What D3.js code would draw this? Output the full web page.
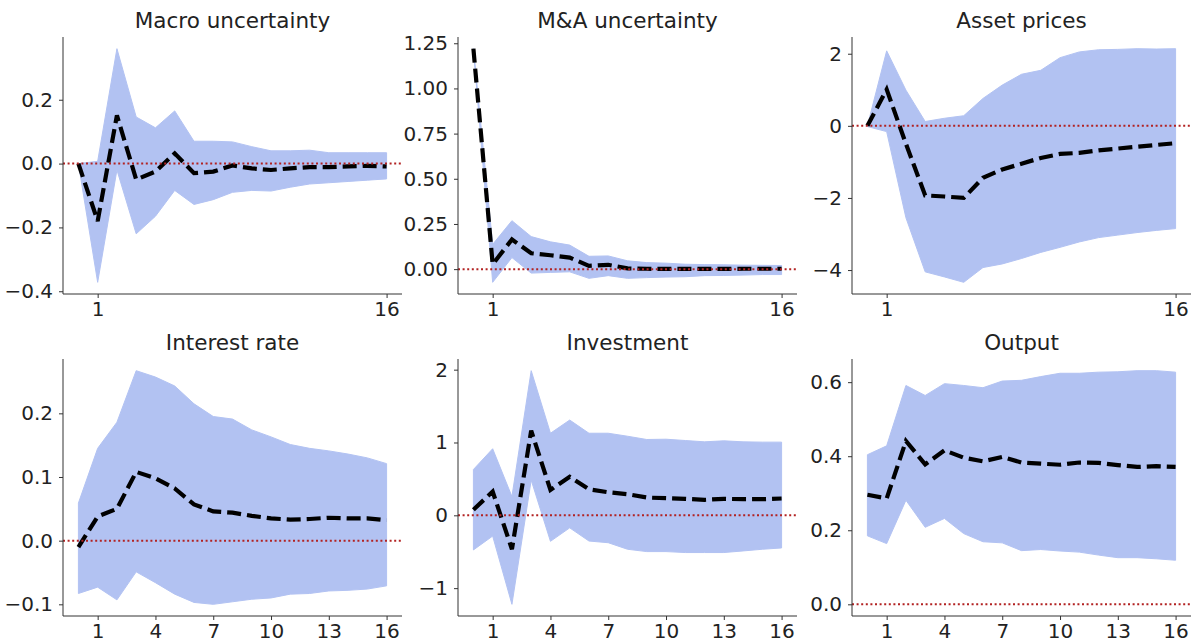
<!DOCTYPE html>
<html>
<head>
<meta charset="utf-8">
<script src="https://cdn.jsdelivr.net/npm/d3@7.9.0/dist/d3.min.js"></script>
<style>
  body { margin: 0; background: #fff; }
  svg { display: block; font-family: "DejaVu Sans", sans-serif; }
  .domain, .tick line { stroke: #333; }
  .title { font-size: 21.5px; fill: #222; }
</style>
</head>
<body>
<svg id="chart" width="1193" height="644"></svg>
<script>
// horizons
const horizons = [0, 1, 2, 3, 4, 5, 6, 7, 8, 9, 10, 11, 12, 13, 14, 15, 16];

// Macro uncertainty
const macroIrf = [0, -0.18, 0.151, -0.05, -0.025, 0.032, -0.03, -0.025, -0.006, -0.015, -0.02, -0.015, -0.011, -0.011, -0.009, -0.007, -0.009];
const macroHi  = [0, 0.007, 0.36, 0.146, 0.112, 0.165, 0.07, 0.07, 0.068, 0.053, 0.04, 0.04, 0.042, 0.034, 0.034, 0.034, 0.034];
const macroLo  = [0, -0.372, -0.02, -0.22, -0.165, -0.084, -0.128, -0.113, -0.09, -0.084, -0.086, -0.074, -0.064, -0.06, -0.056, -0.052, -0.048];

// M&A uncertainty
const maIrf = [1.22, 0.027, 0.164, 0.088, 0.077, 0.064, 0.018, 0.024, 0.004, 0.002, 0.001, 0.001, 0.001, 0.001, 0.002, 0.002, 0.002];
const maHi  = [1.22, 0.137, 0.268, 0.18, 0.151, 0.133, 0.071, 0.073, 0.046, 0.036, 0.033, 0.027, 0.025, 0.024, 0.022, 0.021, 0.02];
const maLo  = [1.22, -0.073, 0.064, -0.022, -0.018, -0.015, -0.051, -0.036, -0.051, -0.047, -0.044, -0.042, -0.036, -0.035, -0.033, -0.03, -0.03];

// Asset prices
const assetIrf = [0, 1.01, -0.5, -1.93, -1.96, -2.0, -1.44, -1.21, -1.05, -0.89, -0.78, -0.75, -0.68, -0.63, -0.58, -0.53, -0.48];
const assetHi  = [0, 2.08, 0.99, 0.12, 0.21, 0.28, 0.76, 1.13, 1.43, 1.54, 1.89, 2.05, 2.11, 2.12, 2.14, 2.13, 2.14];
const assetLo  = [-0.02, -0.16, -2.55, -4.05, -4.19, -4.34, -3.93, -3.83, -3.68, -3.51, -3.37, -3.22, -3.10, -3.03, -2.96, -2.9, -2.85];

// Interest rate
const rateIrf = [-0.01, 0.038, 0.05, 0.108, 0.098, 0.082, 0.057, 0.046, 0.044, 0.039, 0.035, 0.033, 0.034, 0.036, 0.035, 0.035, 0.032];
const rateHi  = [0.059, 0.145, 0.186, 0.267, 0.257, 0.243, 0.215, 0.195, 0.191, 0.174, 0.163, 0.151, 0.145, 0.141, 0.136, 0.13, 0.121];
const rateLo  = [-0.083, -0.073, -0.093, -0.049, -0.066, -0.084, -0.097, -0.1, -0.096, -0.092, -0.09, -0.084, -0.083, -0.079, -0.078, -0.076, -0.071];

// Investment
const invIrf = [0.077, 0.326, -0.466, 1.163, 0.348, 0.53, 0.357, 0.317, 0.29, 0.244, 0.235, 0.226, 0.213, 0.226, 0.222, 0.222, 0.231];
const invHi  = [0.629, 0.914, 0.258, 1.986, 1.127, 1.308, 1.127, 1.127, 1.086, 1.041, 1.045, 1.027, 1.009, 1.023, 1.009, 1.005, 1.005];
const invLo  = [-0.475, -0.285, -1.222, 0.484, -0.357, -0.172, -0.353, -0.376, -0.466, -0.498, -0.498, -0.511, -0.511, -0.511, -0.489, -0.466, -0.448];

// Output
const outIrf = [0.296, 0.286, 0.441, 0.378, 0.416, 0.396, 0.386, 0.398, 0.383, 0.38, 0.377, 0.383, 0.382, 0.376, 0.371, 0.373, 0.371];
const outHi  = [0.404, 0.428, 0.591, 0.564, 0.596, 0.591, 0.585, 0.603, 0.605, 0.615, 0.624, 0.624, 0.627, 0.628, 0.631, 0.631, 0.627];
const outLo  = [0.185, 0.164, 0.281, 0.208, 0.232, 0.191, 0.169, 0.166, 0.145, 0.148, 0.144, 0.141, 0.133, 0.126, 0.126, 0.123, 0.119];

const titles = ['Macro uncertainty', 'M&A uncertainty', 'Asset prices', 'Interest rate', 'Investment', 'Output'];
const yTicks = [
  [-0.4, -0.2, 0, 0.2],
  [0, 0.25, 0.5, 0.75, 1, 1.25],
  [-4, -2, 0, 2],
  [-0.1, 0, 0.1, 0.2],
  [-1, 0, 1, 2],
  [0, 0.2, 0.4, 0.6]
];
const yFormats = ['.1f', '.2f', 'd', '.1f', 'd', '.1f'];
const xTicksTop = [1, 16];
const xTicksBottom = [1, 4, 7, 10, 13, 16];

const panels = [
  { irf: macroIrf, lo: macroLo, hi: macroHi },
  { irf: maIrf, lo: maLo, hi: maHi },
  { irf: assetIrf, lo: assetLo, hi: assetHi },
  { irf: rateIrf, lo: rateLo, hi: rateHi },
  { irf: invIrf, lo: invLo, hi: invHi },
  { irf: outIrf, lo: outLo, hi: outHi }
];

const svg = d3.select('#chart');
const colLeft = [63, 458, 852];
const rowTop = [37, 359];
const w = 339, h = 257;

// matplotlib-like autoscale with 5% margins
function padded(ext) {
  const m = (ext[1] - ext[0]) * 0.05;
  return [ext[0] - m, ext[1] + m];
}

panels.forEach((p, i) => {
  const col = i % 3, row = Math.floor(i / 3);
  const g = svg.append('g').attr('transform', `translate(${colLeft[col]},${rowTop[row]})`);

  const x = d3.scaleLinear().domain(padded(d3.extent(horizons))).range([0, w]);
  const yExt = d3.extent([...p.irf, ...p.lo, ...p.hi, 0]);
  const y = d3.scaleLinear().domain(padded(yExt)).range([h, 0]);

  // band
  const area = d3.area()
    .x((d, k) => x(horizons[k]))
    .y0((d, k) => y(p.lo[k]))
    .y1((d, k) => y(p.hi[k]));
  g.append('path')
    .datum(p.irf)
    .attr('d', area)
    .attr('fill', '#4169e1')
    .attr('stroke', '#4169e1')
    .attr('stroke-width', 1)
    .attr('opacity', 0.4);

  // irf
  const line = d3.line()
    .x((d, k) => x(horizons[k]))
    .y(d => y(d));
  g.append('path')
    .datum(p.irf)
    .attr('d', line)
    .attr('fill', 'none')
    .attr('stroke', '#000')
    .attr('stroke-width', 4.2)
    .attr('stroke-dasharray', '14,6');

  // zero line
  g.append('line')
    .attr('x1', 0).attr('x2', w)
    .attr('y1', y(0)).attr('y2', y(0))
    .attr('stroke', '#b22222')
    .attr('stroke-width', 2)
    .attr('stroke-dasharray', '2,2.6');

  // axes
  const minus = s => s.replace('-', '\u2212');
  const fmt = d3.format(yFormats[i]);
  const yAxis = g.append('g')
    .call(d3.axisLeft(y).tickValues(yTicks[i]).tickSize(4).tickPadding(6)
      .tickFormat(d => minus(fmt(d))));
  yAxis.select('.domain').attr('d', `M0,${h}V0`);
  const xAxis = g.append('g')
    .attr('transform', `translate(0,${h})`)
    .call(d3.axisBottom(x).tickValues(row === 0 ? xTicksTop : xTicksBottom)
      .tickSize(4).tickPadding(4).tickFormat(d3.format('d')));
  xAxis.select('.domain').attr('d', `M0,0H${w}`);
  [yAxis, xAxis].forEach(a => a.attr('font-family', null).attr('font-size', 20));
  g.selectAll('.tick text').attr('fill', '#222');

  g.append('text')
    .attr('class', 'title')
    .attr('x', w / 2)
    .attr('y', -9)
    .attr('text-anchor', 'middle')
    .text(titles[i]);
});
</script>
</body>
</html>
